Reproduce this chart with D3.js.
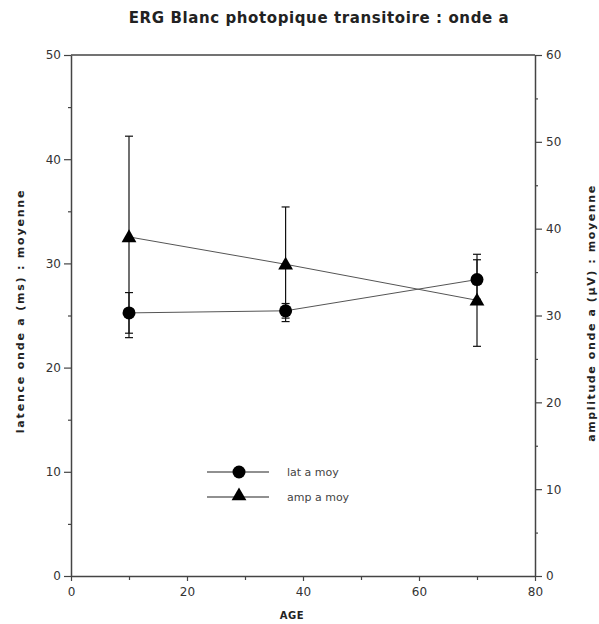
<!DOCTYPE html>
<html>
<head>
<meta charset="utf-8">
<script src="https://cdn.jsdelivr.net/npm/d3@7"></script>
<style>
  body { margin: 0; background: #fff; }
  svg { display: block; }
  text { font-family: "DejaVu Sans", sans-serif; }
</style>
</head>
<body>
<div id="chart"></div>
<script>
// Age groups
const ages = [10, 37, 70];
// Latency of wave a (ms) — mean and SD, left axis
const latMean = [25.25, 25.45, 28.45];
const latSd = [1.95, 0.7, 1.9];
// Amplitude of wave a (µV) — mean and SD, right axis
const ampMean = [39.05, 35.9, 31.75];
const ampSd = [11.6, 6.6, 5.3];

const xTicks = [0, 20, 40, 60, 80];
const yLeftTicks = [0, 10, 20, 30, 40, 50];
const yRightTicks = [0, 10, 20, 30, 40, 50, 60];

const W = 599, H = 624;
const m = { left: 71, right: 64, top: 55, bottom: 48 };

const svg = d3.select("#chart").append("svg").attr("width", W).attr("height", H);

const x = d3.scaleLinear().domain([0, 80]).range([m.left, W - m.right]);
const yL = d3.scaleLinear().domain([0, 50]).range([H - m.bottom, m.top]);
const yR = d3.scaleLinear().domain([0, 60]).range([H - m.bottom, m.top]);

const axisCol = "#444";
const labelCol = "#333";

// Title
svg.append("text").attr("x", 319).attr("y", 23).attr("text-anchor", "middle")
  .attr("font-size", 15).attr("font-weight", "bold").attr("fill", "#222")
  .attr("letter-spacing", 0.6)
  .text("ERG Blanc photopique transitoire : onde a");

// Top frame line
svg.append("line").attr("x1", x(0)).attr("x2", x(80)).attr("y1", yL(50)).attr("y2", yL(50))
  .attr("stroke", axisCol).attr("stroke-width", 1.5);

function styleAxis(g) {
  g.select(".domain").attr("stroke", axisCol).attr("stroke-width", 1.5);
  g.selectAll(".tick line").attr("stroke", axisCol).attr("stroke-width", 1.2);
  g.selectAll(".tick text").attr("fill", labelCol).attr("font-size", 12)
    .attr("font-family", "'DejaVu Sans', sans-serif");
}

// Minor ticks
function minor(g, axis) { g.call(axis); g.select(".domain").remove(); g.selectAll("text").remove();
  g.selectAll(".tick line").attr("stroke", axisCol).attr("stroke-width", 1.2); }

svg.append("g").attr("transform", `translate(0,${yL(0)})`)
  .call(g => minor(g, d3.axisBottom(x).tickValues([10, 30, 50, 70]).tickSize(4).tickFormat("")));
svg.append("g").attr("transform", `translate(${x(0)},0)`)
  .call(g => minor(g, d3.axisLeft(yL).tickValues([5, 15, 25, 35, 45]).tickSize(3).tickFormat("")));
svg.append("g").attr("transform", `translate(${x(80)},0)`)
  .call(g => minor(g, d3.axisRight(yR).tickValues([5, 15, 25, 35, 45, 55]).tickSize(3).tickFormat("")));

// Major axes
svg.append("g").attr("transform", `translate(0,${yL(0)})`)
  .call(d3.axisBottom(x).tickValues(xTicks).tickSize(5).tickPadding(6).tickSizeOuter(0))
  .call(styleAxis);
svg.append("g").attr("transform", `translate(${x(0)},0)`)
  .call(d3.axisLeft(yL).tickValues(yLeftTicks).tickSize(7).tickPadding(3).tickSizeOuter(0))
  .call(styleAxis);
svg.append("g").attr("transform", `translate(${x(80)},0)`)
  .call(d3.axisRight(yR).tickValues(yRightTicks).tickSize(7).tickPadding(4).tickSizeOuter(0))
  .call(styleAxis);

// Axis titles
svg.append("text").attr("x", 292).attr("y", 619).attr("text-anchor", "middle")
  .attr("font-size", 10).attr("font-weight", "bold").attr("fill", "#222")
  .attr("letter-spacing", 0.5).text("AGE");
svg.append("text").attr("transform", `translate(24,311) rotate(-90)`).attr("text-anchor", "middle")
  .attr("font-size", 11).attr("font-weight", "bold").attr("fill", "#222")
  .attr("letter-spacing", 1.8)
  .text("latence onde a (ms) : moyenne");
svg.append("text").attr("transform", `translate(595,313) rotate(-90)`).attr("text-anchor", "middle")
  .attr("font-size", 11).attr("font-weight", "bold").attr("fill", "#222")
  .attr("letter-spacing", 1.6)
  .text("amplitude onde a (µV) : moyenne");

const latData = ages.map((a, i) => ({ a, v: latMean[i], sd: latSd[i] }));
const ampData = ages.map((a, i) => ({ a, v: ampMean[i], sd: ampSd[i] }));

// Connecting lines
const lineCol = "#555";
svg.append("path").datum(latData).attr("fill", "none").attr("stroke", lineCol).attr("stroke-width", 1)
  .attr("d", d3.line().x(d => x(d.a)).y(d => yL(d.v)));
svg.append("path").datum(ampData).attr("fill", "none").attr("stroke", lineCol).attr("stroke-width", 1)
  .attr("d", d3.line().x(d => x(d.a)).y(d => yR(d.v)));

// Error bars
function errorBars(data, y) {
  const g = svg.append("g").attr("stroke", "#111").attr("stroke-width", 1.2);
  data.forEach(d => {
    const cx = x(d.a), y1 = y(d.v + d.sd), y2 = y(d.v - d.sd);
    g.append("line").attr("x1", cx).attr("x2", cx).attr("y1", y1).attr("y2", y2);
    g.append("line").attr("x1", cx - 4).attr("x2", cx + 4).attr("y1", y1).attr("y2", y1);
    g.append("line").attr("x1", cx - 4).attr("x2", cx + 4).attr("y1", y2).attr("y2", y2);
  });
}
errorBars(latData, yL);
errorBars(ampData, yR);

// Markers
const tri = d3.symbol().type(d3.symbolTriangle).size(95);
svg.append("g").selectAll("circle").data(latData).join("circle")
  .attr("cx", d => x(d.a)).attr("cy", d => yL(d.v)).attr("r", 6.5).attr("fill", "#000");
svg.append("g").selectAll("path").data(ampData).join("path")
  .attr("transform", d => `translate(${x(d.a)},${yR(d.v) + 1})`).attr("d", tri).attr("fill", "#000");

// Legend
const legend = [
  { label: "lat a moy", shape: "circle", y: 472 },
  { label: "amp a moy", shape: "triangle", y: 497 }
];
const lg = svg.append("g");
legend.forEach(l => {
  lg.append("line").attr("x1", 207).attr("x2", 269).attr("y1", l.y).attr("y2", l.y)
    .attr("stroke", "#222").attr("stroke-width", 1.2);
  if (l.shape === "circle") {
    lg.append("circle").attr("cx", 239).attr("cy", l.y).attr("r", 6.5).attr("fill", "#000");
  } else {
    lg.append("path").attr("transform", `translate(239,${l.y - 1})`).attr("d", tri).attr("fill", "#000");
  }
  lg.append("text").attr("x", 287).attr("y", l.y + 4).attr("font-size", 11).attr("fill", "#444").text(l.label);
});
</script>
</body>
</html>
